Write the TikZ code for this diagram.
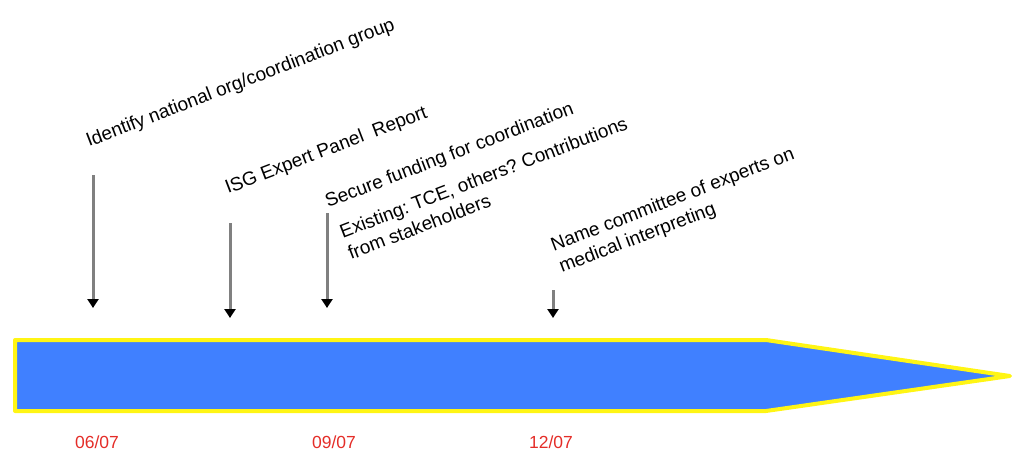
\documentclass[tikz,border=0pt]{standalone}
\usepackage{fontspec}
\setmainfont{Liberation Sans}
\usetikzlibrary{arrows.meta}
\frenchspacing
\definecolor{barblue}{RGB}{64,128,255}
\definecolor{baryellow}{RGB}{255,245,20}
\definecolor{datered}{RGB}{228,45,40}
\tikzset{
    step label/.style={rotate=21, anchor=base west, inner sep=0pt, align=left,
        font=\fontsize{19}{23}\selectfont},
    date label/.style={text=datered, font=\fontsize{17.5}{20}\selectfont},
    marker/.style={draw=black!50, line width=3pt, -{Triangle[length=9pt, width=11pt, color=black]}}
}
\begin{document}
\begin{tikzpicture}[x=1pt, y=-1pt]
    \useasboundingbox (0,0) rectangle (1018,464);
    \draw[baryellow, line width=4pt, line join=round, fill=barblue]
        (15,340) -- (766,340) -- (1010,376) -- (766,411) -- (15,411) -- cycle;
    \node[step label] (identify) at (89,147) {Identify national org/coordination group};
    \node[step label] (isg) at (228,194) {ISG Expert Panel\ \ Report};
    \node[step label] (funding) at (328,208) {Secure funding for coordination};
    \node[step label] (existing) at (351,260) {Existing: TCE, others? Contributions\\from stakeholders};
    \node[step label] (committee) at (562,273) {Name committee of experts on\\medical interpreting};
    \coordinate (a1) at (93,175);
    \coordinate (b1) at (93,308);
    \coordinate (a2) at (230,223);
    \coordinate (b2) at (230,318);
    \coordinate (a3) at (327,213);
    \coordinate (b3) at (327,308);
    \coordinate (a4) at (553,290);
    \coordinate (b4) at (553,318);
    \draw[marker] (a1) -- (b1);
    \draw[marker] (a2) -- (b2);
    \draw[marker] (a3) -- (b3);
    \draw[marker] (a4) -- (b4);
    \node[date label] (d1) at (97,442) {06/07};
    \node[date label] (d2) at (334,442) {09/07};
    \node[date label] (d3) at (551,442) {12/07};
\end{tikzpicture}
\end{document}
